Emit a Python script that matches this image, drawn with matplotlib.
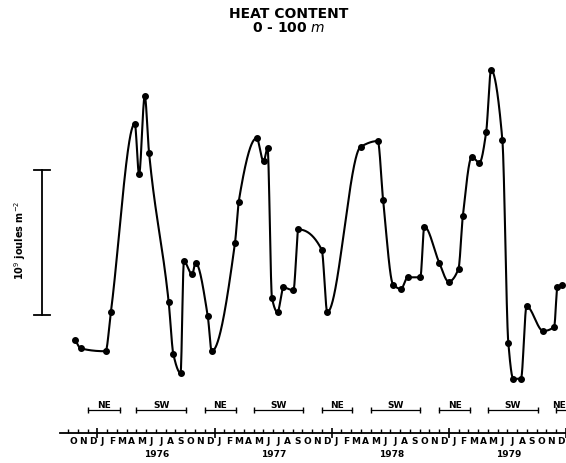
import numpy as np
import matplotlib
matplotlib.use("Agg")
import matplotlib.pyplot as plt
import matplotlib.transforms as mtransforms

# time axis: months counted from October 1975 (0 = Oct 1975)
month_idx = [0.20, 0.79, 3.34, 3.88, 6.33, 6.77, 7.35, 7.79, 9.80, 10.28,
             11.02, 11.36, 12.21, 12.55, 13.81, 14.21, 16.60, 16.97, 18.81, 19.52,
             19.93, 20.38, 20.95, 21.56, 22.58, 23.09, 25.48, 26.05, 29.46, 31.22,
             31.77, 32.79, 33.60, 34.29, 35.58, 35.99, 37.52, 38.47, 39.49, 39.93,
             40.85, 41.63, 42.32, 42.83, 43.98, 44.59, 45.10, 45.89, 46.46, 48.16,
             49.29, 49.62, 50.13]
# heat content 0-100 m, 10^9 J m^-2 (relative to an arbitrary reference level)
heat = [-0.17, -0.23, -0.25, 0.02, 1.32, 0.97, 1.51, 1.12, 0.09, -0.27,
        -0.40, 0.37, 0.28, 0.36, -0.01, -0.25, 0.50, 0.78, 1.22, 1.06,
        1.15, 0.12, 0.02, 0.19, 0.17, 0.59, 0.45, 0.02, 1.16, 1.20,
        0.79, 0.21, 0.18, 0.26, 0.26, 0.61, 0.36, 0.23, 0.32, 0.68,
        1.09, 1.05, 1.26, 1.69, 1.21, -0.19, -0.44, -0.44, 0.06, -0.11,
        -0.08, 0.19, 0.21]

month_letters = ["O", "N", "D"] + list("JFMAMJJASOND") * 4
years = [1976, 1977, 1978, 1979]

# monsoon periods (start, end) in months from Oct 1975
monsoon_names = ["NE", "SW", "NE", "SW", "NE", "SW", "NE", "SW", "NE"]
monsoon_start = [1.5, 6.5, 13.5, 18.5, 25.5, 30.5, 37.5, 42.5, 49.5]
monsoon_end = [4.8, 11.6, 16.7, 23.6, 28.6, 35.5, 40.7, 47.6, 52.7]


def pchip(x, y, xs):
    """Monotone cubic (Fritsch-Carlson) curve through the points"""
    x = np.asarray(x, float)
    y = np.asarray(y, float)
    h = np.diff(x)
    d = np.diff(y) / h
    m = np.zeros_like(y)
    m[0], m[-1] = d[0], d[-1]
    for k in range(1, len(x) - 1):
        if d[k - 1] * d[k] > 0:
            w1 = 2 * h[k] + h[k - 1]
            w2 = h[k] + 2 * h[k - 1]
            m[k] = (w1 + w2) / (w1 / d[k - 1] + w2 / d[k])
    idx = np.clip(np.searchsorted(x, xs) - 1, 0, len(x) - 2)
    t = (xs - x[idx]) / h[idx]
    h00 = 2 * t**3 - 3 * t**2 + 1
    h10 = t**3 - 2 * t**2 + t
    h01 = -2 * t**3 + 3 * t**2
    h11 = t**3 - t**2
    return (h00 * y[idx] + h10 * h[idx] * m[idx]
            + h01 * y[idx + 1] + h11 * h[idx] * m[idx + 1])


fig = plt.figure(figsize=(5.66, 4.63), dpi=100)
ax = fig.add_axes([60 / 566, 30 / 463, 506 / 566, 383 / 463])
ax.set_xlim(-1.33, 50.31)
ax.set_ylim(-0.814, 1.828)

# curve
xs = np.linspace(month_idx[0], month_idx[-1], 2000)
ax.plot(xs, pchip(month_idx, heat, xs), color="black", lw=1.5, clip_on=False)
ax.plot(month_idx, heat, "o", color="black", ms=4, clip_on=False)

# spines / month axis
for side in ["left", "right", "top"]:
    ax.spines[side].set_visible(False)
ax.spines["bottom"].set_linewidth(1.3)
ax.set_yticks([])
n_months = len(month_letters)
ax.set_xticks([k - 0.5 for k in range(n_months + 1) if (k - 3) % 12 == 0])
ax.set_xticks(np.arange(-0.5, n_months), minor=True)
ax.tick_params(axis="x", which="major", direction="inout", length=7, width=1.2,
               labelbottom=False)
ax.tick_params(axis="x", which="minor", direction="in", length=3, width=1.0)

trans = mtransforms.blended_transform_factory(ax.transData, ax.transAxes)
for k, lab in enumerate(month_letters):
    ax.text(k, -0.01, lab, transform=trans, ha="center", va="top",
            fontsize=6.5, fontweight="bold")
for i, yr in enumerate(years):
    ax.text(3 + 12 * i + 5.6, -0.045, str(yr), transform=trans, ha="center",
            va="top", fontsize=6.5, fontweight="bold")

# monsoon bars
bar_y = -0.655
for i, (name, s, e) in enumerate(zip(monsoon_names, monsoon_start, monsoon_end)):
    ax.plot([s, e], [bar_y, bar_y], color="black", lw=0.9, marker="|", ms=4,
            clip_on=True)
    if i == len(monsoon_names) - 1:
        # last label sits against the right edge
        ax.text(1.0, bar_y, name, transform=mtransforms.blended_transform_factory(
            ax.transAxes, ax.transData), ha="right", va="bottom",
            fontsize=6.5, fontweight="bold")
    else:
        ax.text((s + e) / 2, bar_y, name, ha="center", va="bottom",
                fontsize=6.5, fontweight="bold")

# vertical scale bar: 10^9 joules m^-2
sx = -3.16
ax.plot([sx, sx], [0, 1], color="black", lw=1.3, clip_on=False)
ax.plot([sx - 0.85, sx + 0.85], [0, 0], color="black", lw=1.3, clip_on=False)
ax.plot([sx - 0.85, sx + 0.85], [1, 1], color="black", lw=1.3, clip_on=False)
fig.text(20 / 566, 1 - 240 / 463, r"10$^{9}$ joules m$^{-2}$", rotation=90,
         ha="center", va="center", fontsize=7, fontweight="bold")

# title
fig.text(289 / 566, 1 - 14 / 463, "HEAT CONTENT", ha="center", va="center",
         fontsize=10, fontweight="bold")
fig.text(289 / 566, 1 - 28 / 463, r"0 - 100 $\it{m}$", ha="center", va="center",
         fontsize=10, fontweight="bold")

fig.savefig("out.png", dpi=100)
